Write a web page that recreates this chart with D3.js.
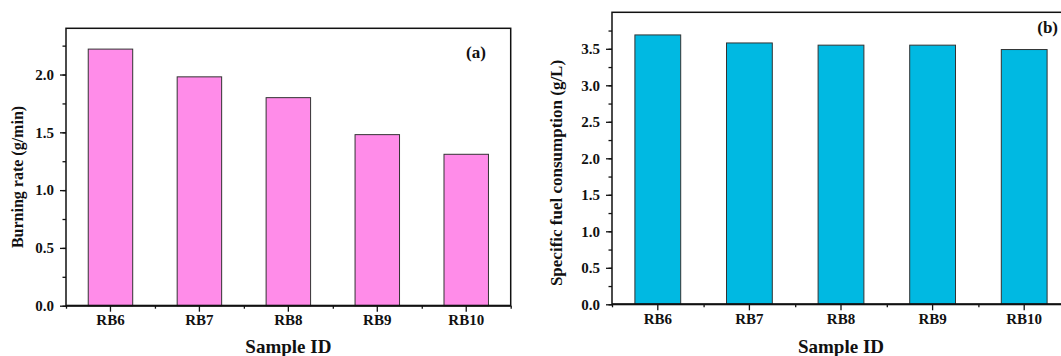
<!DOCTYPE html>
<html>

<head>
    <meta charset="utf-8">
    <title>Burning rate and specific fuel consumption</title>
    <script src="https://cdn.jsdelivr.net/npm/d3@7/dist/d3.min.js"></script>
    <style>
        body { margin: 0; background: #fff; }
        text { font-family: 'Liberation Serif', 'Times New Roman', serif; font-weight: bold; }
    </style>
</head>

<body>
    <svg width="1061" height="356" id="mainsvg"></svg>
    <script>
        // data
        const samples = ['RB6', 'RB7', 'RB8', 'RB9', 'RB10'];
        const burningRate = [2.22, 1.98, 1.80, 1.48, 1.31];
        const fuelConsumption = [3.69, 3.58, 3.55, 3.55, 3.49];
        const rateTicks = [0, 0.5, 1.0, 1.5, 2.0];
        const fuelTicks = [0, 0.5, 1.0, 1.5, 2.0, 2.5, 3.0, 3.5];

        const svg = d3.select('#mainsvg');

        const drawPanel = function (o) {
            const g = svg.append('g').attr('id', o.id);

            const xScale = d3.scaleBand()
                .domain(samples)
                .range([o.left, o.right])
                .padding(0);
            const yScale = d3.scaleLinear()
                .domain([0, o.yMax])
                .range([o.bottom, o.top]);

            // bars, half the category width, centered
            const bw = xScale.bandwidth() * 0.5;
            g.selectAll('.bar').data(o.values)
                .join('rect')
                .attr('class', 'bar')
                .attr('x', (d, i) => xScale(samples[i]) + (xScale.bandwidth() - bw) / 2)
                .attr('y', d => yScale(d))
                .attr('width', bw)
                .attr('height', d => yScale(0) - yScale(d))
                .attr('fill', o.color)
                .attr('stroke', '#333')
                .attr('stroke-width', 1);

            // frame
            g.append('rect')
                .attr('x', o.left)
                .attr('y', o.top)
                .attr('width', o.right - o.left)
                .attr('height', o.bottom - o.top)
                .attr('fill', 'none')
                .attr('stroke', '#111')
                .attr('stroke-width', 1.5);

            // y axis: minor then major
            const minor = d3.range(0, o.yMax, 0.25);
            g.append('g')
                .attr('transform', `translate(${o.left},0)`)
                .call(d3.axisLeft(yScale).tickValues(minor).tickSize(3.5).tickFormat(''))
                .call(a => a.select('.domain').remove());
            const yAxis_group = g.append('g')
                .attr('transform', `translate(${o.left},0)`)
                .call(d3.axisLeft(yScale).tickValues(o.ticks).tickSize(6).tickPadding(6).tickFormat(d3.format('.1f')));
            yAxis_group.select('.domain').remove();

            // x axis: minor ticks at category edges, major at centers
            const xMinor = d3.scaleLinear().domain([0, samples.length]).range([o.left, o.right]);
            g.append('g')
                .attr('transform', `translate(0,${o.bottom})`)
                .call(d3.axisBottom(xMinor).tickValues(d3.range(0, samples.length + 1)).tickSize(3).tickFormat(''))
                .call(a => a.select('.domain').remove());
            const xAxis_group = g.append('g')
                .attr('transform', `translate(0,${o.bottom})`)
                .call(d3.axisBottom(xScale).tickSize(6).tickPadding(3));
            xAxis_group.select('.domain').remove();

            g.append('line')
                .attr('x1', o.left).attr('x2', o.right)
                .attr('y1', o.bottom).attr('y2', o.bottom)
                .attr('stroke', '#111')
                .attr('stroke-width', 2);

            g.selectAll('.tick line').attr('stroke', '#111').attr('stroke-width', 1.3);
            g.selectAll('.tick text')
                .attr('font-family', "'Liberation Serif', 'Times New Roman', serif")
                .attr('font-weight', 'bold')
                .attr('font-size', 15)
                .attr('fill', '#111');

            // axis titles
            g.append('text')
                .attr('transform', `translate(${o.yLabelX},${o.yLabelY}) rotate(-90)`)
                .attr('text-anchor', 'middle')
                .attr('dy', '0.35em')
                .attr('font-size', o.yLabelSize)
                .attr('fill', '#111')
                .text(o.yLabel);
            g.append('text')
                .attr('x', (o.left + o.right) / 2)
                .attr('y', 353)
                .attr('text-anchor', 'middle')
                .attr('font-size', 19)
                .attr('fill', '#111')
                .text('Sample ID');

            g.append('text')
                .attr('x', o.tagX)
                .attr('y', o.tagY)
                .attr('text-anchor', o.tagAnchor)
                .attr('font-size', 17)
                .attr('fill', '#111')
                .text(o.tag);
        };

        drawPanel({
            id: 'panel_a', values: burningRate, ticks: rateTicks, yMax: 2.4,
            left: 66, right: 510.7, top: 28.3, bottom: 305.7,
            color: '#ff8ce9',
            yLabel: 'Burning rate (g/min)', yLabelX: 17, yLabelY: 177, yLabelSize: 16,
            tag: '(a)', tagX: 476, tagY: 58, tagAnchor: 'middle'
        });

        drawPanel({
            id: 'panel_b', values: fuelConsumption, ticks: fuelTicks, yMax: 4.0,
            left: 612, right: 1070, top: 12.3, bottom: 304.3,
            color: '#00b9e2',
            yLabel: 'Specific fuel consumption (g/L)', yLabelX: 556, yLabelY: 173, yLabelSize: 17,
            tag: '(b)', tagX: 1058, tagY: 33, tagAnchor: 'end'
        });
    </script>
</body>

</html>
